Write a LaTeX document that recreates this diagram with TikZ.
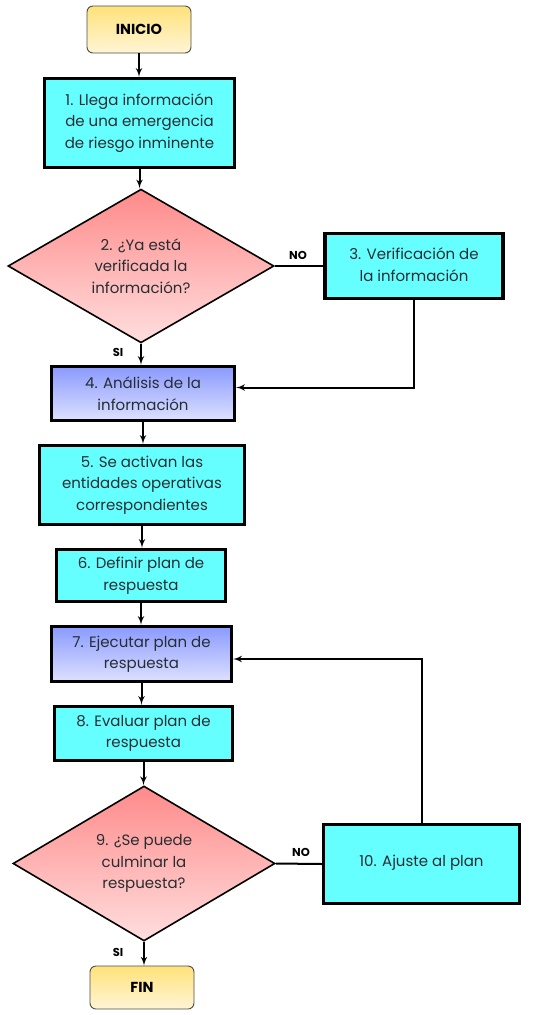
\documentclass[tikz,border=0pt]{standalone}
\usepackage{fontspec}
\setmainfont{Poppins}
\usetikzlibrary{arrows,shapes.geometric}

\definecolor{celeste}{HTML}{66FFFF}
\definecolor{azularriba}{HTML}{8A9AFF}
\definecolor{azulabajo}{HTML}{DDE1FF}
\definecolor{rojoarriba}{HTML}{FF8A8A}
\definecolor{rojoabajo}{HTML}{FFDEDE}
\definecolor{amarilloarriba}{HTML}{FFE27A}
\definecolor{amarilloabajo}{HTML}{FFF5D6}
\definecolor{texto}{HTML}{262E33}

\tikzset{
    paso/.style={draw=black, line width=3.4pt, fill=celeste, align=center, inner sep=0pt, text=texto},
    pasoazul/.style={paso, top color=azularriba, bottom color=azulabajo},
    pregunta/.style={diamond, draw=black, line width=1.6pt, top color=rojoarriba, bottom color=rojoabajo, align=center, inner sep=0pt, text=texto},
    terminal/.style={draw=black!70, line width=0.9pt, rounded corners=6pt, top color=amarilloarriba, bottom color=amarilloabajo, inner sep=0pt, font=\fontsize{14.5}{16}\selectfont\bfseries},
    rotulo/.style={font=\fontsize{11.5}{13}\selectfont\bfseries, inner sep=0pt},
    flecha/.style={-latex', line width=2pt},
    linea/.style={line width=2pt}
}

\begin{document}
\begin{tikzpicture}[x=1pt, y=-1pt, font=\fontsize{15}{21.5}\selectfont]
    \useasboundingbox (0, 0) rectangle (557, 1015);

    % columna principal
    \node [terminal, minimum width=104pt, minimum height=47pt] (inicio) at (139, 29.5) {INICIO};
    \node [paso, minimum width=190pt, minimum height=89pt] (p1) at (139.5, 123) {1. Llega información\\de una emergencia\\de riesgo inminente};
    \node [pregunta, minimum width=266pt, minimum height=147pt] (p2) at (141, 266) {2. ¿Ya está\\verificada la\\información?};
    \node [paso, minimum width=178pt, minimum height=65pt] (p3) at (414, 266) {\raisebox{3pt}{\begin{tabular}{@{}c@{}}3. Verificación de\\la información\end{tabular}}};
    \node [pasoazul, minimum width=183pt, minimum height=54pt] (p4) at (143, 393.5) {4. Análisis de la\\información};
    \node [paso, minimum width=205pt, minimum height=79pt] (p5) at (142, 485) {5. Se activan las\\entidades operativas\\correspondientes};
    \node [paso, minimum width=169pt, minimum height=52pt] (p6) at (141, 575.5) {6. Definir plan de\\respuesta};
    \node [pasoazul, minimum width=180pt, minimum height=55pt] (p7) at (141.5, 654) {7. Ejecutar plan de\\respuesta};
    \node [paso, minimum width=178pt, minimum height=54pt] (p8) at (143.5, 733.5) {8. Evaluar plan de\\respuesta};
    \node [pregunta, minimum width=262pt, minimum height=155pt] (p9) at (144, 863.5) {9. ¿Se puede\\culminar la\\respuesta?};
    \node [paso, minimum width=196pt, minimum height=79pt] (p10) at (421.5, 864) {\raisebox{7pt}{10. Ajuste al plan}};
    \node [terminal, minimum width=104pt, minimum height=43pt] (fin) at (142, 987.5) {FIN};

    % rotulos
    \node [rotulo] (no1) at (298, 255) {NO};
    \node [rotulo] (si1) at (118, 352) {SI};
    \node [rotulo] (no2) at (301, 852) {NO};
    \node [rotulo] (si2) at (118, 952) {SI};

    % conectores
    \draw [flecha] (inicio.south) -- (inicio.south |- p1.north);
    \draw [flecha] (p1.south) -- (p1.south |- p2.north);
    \draw [flecha] (p2.south) -- (p2.south |- p4.north);
    \draw [linea] (p2.east) -- (p3.west);
    \draw [flecha] (p3.south) |- ([yshift=6pt]p4.east);
    \draw [flecha] (p4.south) -- (p4.south |- p5.north);
    \draw [flecha] (p5.south) -- (p5.south |- p6.north);
    \draw [flecha] (p6.south) -- (p6.south |- p7.north);
    \draw [flecha] (p7.south) -- (p7.south |- p8.north);
    \draw [flecha] (p8.south) -- (p8.south |- p9.north);
    \draw [linea] (p9.east) -- (p10.west);
    \draw [flecha] (p10.north) |- ([yshift=-5pt]p7.east);
    \draw [flecha] (p9.south) -- (p9.south |- fin.north);
\end{tikzpicture}
\end{document}
